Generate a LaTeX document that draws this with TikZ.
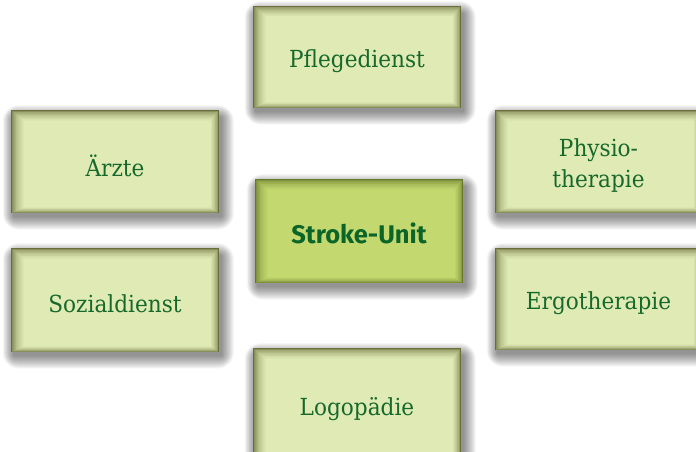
\documentclass[tikz,border=0pt]{standalone}
\usepackage{fontspec}
\setmainfont{DejaVu Serif}[FakeStretch=0.92]
\newfontfamily\boxsans{Fira Sans}[BoldFont={Fira Sans Bold}]
\definecolor{panelfill}{HTML}{DFEAB5}
\definecolor{paneldark}{HTML}{6A6E3A}
\definecolor{centerfill}{HTML}{C3D86E}
\definecolor{centerdark}{HTML}{66782C}
\definecolor{labelgreen}{HTML}{17692B}
\definecolor{centergreen}{HTML}{0C6528}
\tikzset{
  paneltext/.style={text=labelgreen, font=\fontsize{23.5}{31}\selectfont, align=center, inner sep=0pt, yshift=-4pt},
  centertext/.style={text=centergreen, font=\boxsans\bfseries\fontsize{25.5}{28}\selectfont, inner sep=0pt, yshift=-2pt},
}
% #1 name, #2 x1, #3 y1, #4 x2, #5 y2, #6 fill, #7 dark, #8 style, #9 text
\newcommand\drawpanel[9]{%
  \foreach \k in {1,...,16}{
    \fill[black, opacity=0.03, rounded corners=\k pt] ({#2+3-\k*0.7},{#3+8-\k*0.8}) rectangle ({#4+2+\k*0.8},{#5+3+\k*0.85});
  }
  \fill[#7] (#2,#3) rectangle (#4,#5);
  \foreach \k in {1,...,14}{
    \pgfmathsetmacro\pc{100*(\k/14)^0.5}
    \fill[#6!\pc!#7] ({#2+\k*0.9},{#3+\k*0.75}) rectangle ({#4-\k*0.6},{#5-\k*0.4});
  }
  \node[#8] (#1) at ({(#2+#4)/2},{(#3+#5)/2}) {#9};
}
\begin{document}
\begin{tikzpicture}[x=1pt,y=-1pt]
\useasboundingbox (0,0) rectangle (696,452);
\fill[white] (0,0) rectangle (696,452);
\drawpanel{pflege}{253}{6}{461}{108}{panelfill}{paneldark}{paneltext}{Pflegedienst}
\drawpanel{aerzte}{11}{110}{219}{213}{panelfill}{paneldark}{paneltext}{Ärzte}
\drawpanel{sozial}{11}{248}{219}{352}{panelfill}{paneldark}{paneltext}{Sozialdienst}
\drawpanel{physio}{495}{110}{702}{213}{panelfill}{paneldark}{paneltext}{Physio-\\therapie}
\drawpanel{ergo}{495}{248}{702}{350}{panelfill}{paneldark}{paneltext}{Ergotherapie}
\drawpanel{logo}{253}{348}{461}{462}{panelfill}{paneldark}{paneltext}{Logopädie}
\drawpanel{stroke}{255}{179}{463}{283}{centerfill}{centerdark}{centertext}{Stroke-Unit}
\end{tikzpicture}
\end{document}
